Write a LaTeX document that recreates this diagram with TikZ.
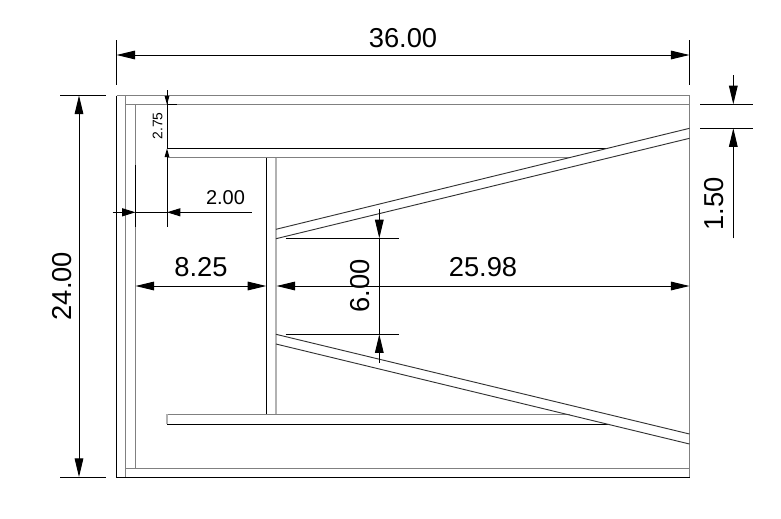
\documentclass[tikz,border=0pt]{standalone}
\usepackage{fontspec}
\setmainfont{Liberation Sans}
\usetikzlibrary{arrows.meta}

\tikzset{
	edge/.style={black, line width=0.75pt},
	soft/.style={black!50, line width=0.75pt},
	pale/.style={black!30, line width=1.2pt},
	slant/.style={black!80, line width=0.7pt},
	dim/.style={black, line width=0.7pt},
	big/.style={dim, arrows={Triangle[length=14pt,width=6.5pt]-Triangle[length=14pt,width=6.5pt]}},
	tipend/.style={dim, -{Triangle[length=14pt,width=6.5pt]}},
	tipmid/.style={dim, -{Triangle[length=10pt,width=6pt]}},
	tipsmall/.style={dim, -{Triangle[length=6.5pt,width=3.5pt]}},
	biglabel/.style={font=\fontsize{20.5}{20.5}\selectfont, inner sep=0pt},
	midlabel/.style={font=\fontsize{15}{15}\selectfont, inner sep=0pt},
	smalllabel/.style={font=\fontsize{10.4}{10.4}\selectfont, inner sep=0pt}
}

\begin{document}
\begin{tikzpicture}[x=0.75pt,y=-0.75pt]
\useasboundingbox (0,0) rectangle (781,518);

\draw [soft] (116.5,95.5) -- (689.5,95.5) -- (689.5,477);
\draw [edge] (116.5,95.5) -- (116.5,477) -- (689.5,477);
\draw [soft] (125.7,95.5) -- (125.7,477);
\draw [soft] (125.7,104.5) -- (689.5,104.5);
\draw [soft] (135.5,104.5) -- (135.5,468);
\draw [soft] (125.7,468) -- (689.5,468);
\draw [edge] (135.5,165) -- (135.5,227);

\draw [edge] (167,148.5) -- (607,148.5);
\draw [soft] (167,157.5) -- (570,157.5);
\draw [edge] (266.3,157.5) -- (266.3,414);
\draw [pale] (275.7,157.5) -- (275.7,414);
\draw [soft] (167,414) -- (570,414);
\draw [pale] (167,414) -- (167,424);
\draw [edge] (167,424) -- (608,424);

\draw [slant] (276,229.3) -- (689.5,128.3);
\draw [slant] (276,238.7) -- (689.5,138.3);
\draw [slant] (276,334.3) -- (689.5,434);
\draw [slant] (276,344) -- (689.5,444);

\coordinate (wl) at (116.5,55);
\coordinate (wr) at (689.5,55);
\draw [dim] (116.5,40) -- (116.5,85);
\draw [dim] (689.5,40) -- (689.5,85);
\draw [big] (wl) -- (wr);
\node (width) at (403,38) [biglabel] {36.00};

\coordinate (ht) at (79,95.5);
\coordinate (hb) at (79,477);
\draw [dim] (60,95.5) -- (106,95.5);
\draw [dim] (60,477) -- (106,477);
\draw [big] (ht) -- (hb);
\node (height) at (62,286) [biglabel,rotate=90] {24.00};

\coordinate (ft) at (167,104.5);
\coordinate (fb) at (167,148.5);
\draw [dim] (167,104.5) -- (176.7,104.5);
\draw [dim] (167,90) -- (167,148.5);
\draw [dim] (167,157.5) -- (167,226.7);
\draw [tipsmall] (167,95) -- (ft);
\draw [tipsmall] (167,158) -- (fb);
\node (flange) at (157.5,126) [smalllabel,rotate=90] {2.75};

\coordinate (il) at (135.5,212.3);
\coordinate (ir) at (167,212.3);
\draw [dim] (il) -- (ir);
\draw [tipmid] (112.7,212.3) -- (il);
\draw [tipmid] (251.7,212.3) -- (ir);
\node (inset) at (225.5,198) [midlabel] {2.00};

\coordinate (sl) at (135.5,286);
\coordinate (sr) at (266.3,286);
\draw [big] (sl) -- (sr);
\node (span) at (201,267) [biglabel] {8.25};

\coordinate (rl) at (276.5,286);
\coordinate (rr) at (689.5,286);
\draw [big] (rl) -- (rr);
\node (run) at (483,267) [biglabel] {25.98};

\coordinate (tt) at (733.3,104.3);
\coordinate (tb) at (733.3,128.3);
\draw [dim] (700,104.3) -- (753,104.3);
\draw [dim] (700,128.3) -- (753,128.3);
\draw [tipend] (733.3,75) -- (tt);
\draw [tipend] (733.3,238.3) -- (tb);
\node (thick) at (714,204) [biglabel,rotate=90] {1.50};

\coordinate (gt) at (379.3,238.3);
\coordinate (gb) at (379.3,334.3);
\draw [dim] (285.7,238.3) -- (399,238.3);
\draw [dim] (285.7,334.3) -- (399,334.3);
\draw [dim] (gt) -- (gb);
\draw [tipend] (379.3,209) -- (gt);
\draw [tipend] (379.3,363) -- (gb);
\node (gap) at (360,286) [biglabel,rotate=90] {6.00};

\end{tikzpicture}
\end{document}
